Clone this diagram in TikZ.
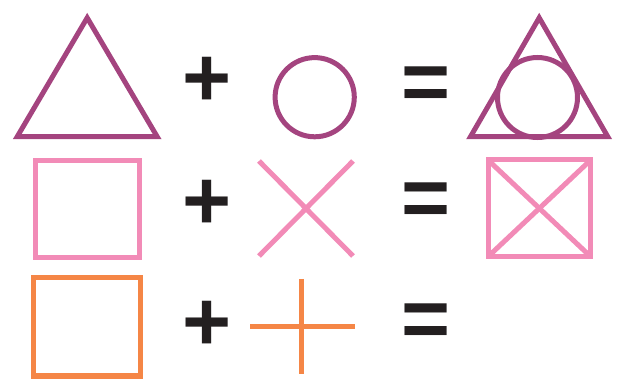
\documentclass[tikz,border=0pt]{standalone}
\usepackage{fontspec}
\newfontfamily\signfont{Liberation Sans}
\definecolor{plum}{HTML}{A4447F}
\definecolor{rose}{HTML}{F28BB7}
\definecolor{tang}{HTML}{F58646}
\definecolor{ink}{HTML}{231F20}
\begin{document}
\begin{tikzpicture}[x=1pt,y=-1pt,line join=miter]
\tikzset{
  purp/.style={draw=plum,line width=5pt},
  pinkline/.style={draw=rose,line width=5pt},
  orng/.style={draw=tang,line width=5.2pt},
  orngthin/.style={draw=tang,line width=4.6pt},
  sign/.style={inner sep=0pt,text=ink,font=\signfont\bfseries\fontsize{84}{84}\selectfont}
}
\useasboundingbox (0,0) rectangle (622,385);
% row 1
\draw[purp] (17.2,136.7) -- (87.2,17.8) -- (157.2,136.7) -- cycle;
\draw[purp] (314.7,97.2) circle[radius=39.6pt];
\draw[purp] (470.5,136.7) -- (539.2,17.8) -- (607.8,136.7) -- cycle;
\draw[purp] (537.5,97.5) circle[radius=40pt];
\node[sign] (p1) at (207,81.5) {+};
\node[sign] (e1) at (426.5,88.5) {=};
% row 2
\draw[pinkline] (35,160.5) rectangle (139.5,257.5);
\draw[pinkline] (259,161) -- (353,256);
\draw[pinkline] (259,256) -- (353,161);
\draw[pinkline] (488,160) rectangle (590.7,256.7);
\draw[pinkline] (488,160) -- (590.7,256.7);
\draw[pinkline] (488,256.7) -- (590.7,160);
\node[sign] (p2) at (207,205) {+};
\node[sign] (e2) at (426.5,205) {=};
% row 3
\draw[orng] (33.5,277.5) rectangle (140.5,376);
\draw[orngthin] (250,326.7) -- (355,326.7);
\draw[orngthin] (301.7,279) -- (301.7,374);
\node[sign] (p3) at (207,326) {+};
\node[sign] (e3) at (426.5,326) {=};
\end{tikzpicture}
\end{document}
